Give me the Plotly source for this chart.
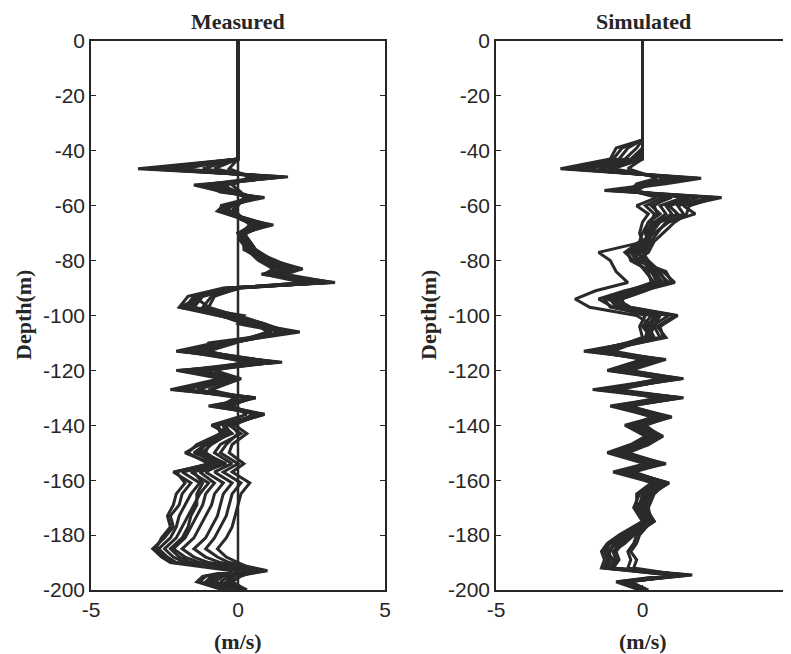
import plotly.graph_objects as go

# ---------------- data ----------------
DEPTH_MEASURED = [0, -43, -46.5, -49.5, -52.5, -55, -57, -60, -62, -65, -67, -70, -73, -76,
                  -80, -83, -85, -88, -90, -93, -97, -100, -103, -106, -110, -113, -117, -120,
                  -123, -127, -130, -133, -136, -140, -143, -147, -150, -154, -157, -161, -165,
                  -169, -173, -177, -181, -185, -188, -190, -193, -195, -197, -200]

MEASURED = [
    [0, 0, -3.4, 1.7, -1.5, -0.5, 0.8, -0.5, -0.7, 0.2, 1.2, 0.1, 0.3, 0.4, 1.3, 1.9, 1.2, 3.3, -0.4, -1.5, -1.8, -0.6, 0.5, 2.1, -0.4, -2.0, 1.4, -2.0, -0.3, -2.2, 0.4, -0.8, 0.8, -0.7, -0.5, -1.3, -1.8, -0.9, -2.2, -1.6, -1.9, -2.0, -2.3, -2.2, -2.5, -2.9, -2.6, -2.3, -0.2, -1.2, -1.4, -0.5],
    [0, 0, -3.1, 1.5, -1.3, -0.2, 0.6, -0.3, -0.5, 0.4, 1.0, 0.2, 0.4, 0.6, 1.1, 1.7, 1.5, 3.0, -0.1, -1.3, -1.6, -0.3, 0.7, 1.8, -0.6, -1.9, 1.1, -1.8, -0.5, -2.0, 0.5, -0.6, 0.7, -0.5, -0.2, -1.1, -1.5, -0.6, -1.9, -1.3, -1.6, -1.8, -2.0, -2.1, -2.3, -2.7, -2.4, -2.1, 0.2, -0.9, -1.1, -0.2],
    [0, 0, -2.6, 1.2, -1.0, -0.4, 0.5, -0.6, -0.3, 0.1, 0.8, 0.0, 0.2, 0.3, 1.0, 1.6, 0.8, 2.8, -0.3, -1.2, -2.0, -0.2, 0.9, 1.1, -0.3, -1.9, 0.5, -1.9, -0.1, -1.8, 0.6, -1.0, 0.9, -0.4, -0.6, -1.2, -1.4, -0.8, -1.6, -1.0, -1.3, -1.5, -1.7, -1.9, -2.1, -2.5, -2.2, -1.8, 0.5, -0.7, -0.9, 0.0],
    [0, 0, -2.2, 1.0, -0.8, -0.1, 0.4, -0.2, -0.4, 0.3, 0.9, 0.3, 0.1, 0.5, 1.2, 2.1, 1.4, 3.1, 0.0, -1.2, -1.5, -0.4, 0.8, 1.6, -0.3, -1.6, 1.2, -1.5, -0.2, -1.9, 0.6, -0.5, 0.9, -0.4, -0.3, -0.9, -1.2, -0.4, -1.3, -0.8, -1.1, -1.2, -1.4, -1.6, -1.8, -2.2, -1.8, -1.3, 0.7, -0.5, -0.8, 0.1],
    [0, 0, -1.8, 0.9, -1.2, -0.3, 0.7, -0.4, -0.6, 0.2, 0.6, 0.1, 0.2, 0.2, 0.9, 1.5, 1.0, 2.6, -0.2, -1.5, -1.0, -0.6, 0.2, 1.9, -1.0, -1.2, 1.2, -1.0, -0.6, -1.9, 0.0, -0.2, 0.3, -0.9, -0.4, -1.0, -1.1, -0.5, -1.1, -0.5, -0.8, -0.9, -1.1, -1.3, -1.5, -1.9, -1.5, -1.0, 0.8, -0.3, -0.6, 0.2],
    [0, 0, -1.2, 0.8, -0.6, 0.0, 0.5, -0.1, -0.2, 0.2, 0.7, 0.2, 0.3, 0.4, 1.0, 1.8, 1.3, 2.9, 0.1, -0.9, -1.2, 0.0, 0.9, 1.7, -0.2, -1.3, 1.3, -1.2, 0.0, -1.4, 0.5, -0.3, 0.7, -0.3, 0.1, -0.6, -0.8, -0.2, -0.8, -0.2, -0.5, -0.6, -0.7, -0.9, -1.1, -1.5, -1.1, -0.6, 0.9, -0.2, -0.4, 0.3],
    [0, 0, -0.8, 0.6, -0.4, -0.2, 0.3, -0.3, -0.3, 0.1, 0.5, 0.0, 0.1, 0.3, 0.8, 1.4, 1.1, 2.4, -0.3, -1.4, -1.6, 0.2, 0.0, 1.5, -0.2, -1.6, 0.3, -1.4, 0.1, -0.9, -0.1, -0.6, 0.8, -0.2, 0.0, -0.4, -0.6, 0.0, -0.5, 0.1, -0.2, -0.3, -0.4, -0.6, -0.8, -1.1, -0.7, -0.3, 1.0, -0.1, -0.3, 0.2],
    [0, 0, -0.3, 0.4, -0.2, 0.1, 0.2, 0.0, -0.1, 0.2, 0.4, 0.1, 0.2, 0.3, 0.7, 1.2, 0.9, 2.2, 0.0, -0.8, -1.0, -0.1, 0.6, 1.0, -0.1, -1.0, 0.6, -0.8, 0.1, -1.0, 0.3, -0.2, 0.5, -0.1, 0.3, -0.2, -0.3, 0.2, -0.2, 0.4, 0.1, 0.0, -0.1, -0.2, -0.4, -0.7, -0.4, 0.0, 0.6, 0.1, -0.2, 0.3],
    [0, 0, -2.9, 1.6, -1.1, -0.6, 0.9, -0.4, -0.6, 0.4, 1.1, 0.2, 0.4, 0.6, 1.2, 2.2, 1.6, 3.2, -0.5, -1.7, -2.0, -0.7, 0.6, 1.9, -0.8, -2.1, 1.5, -2.1, -0.6, -2.3, 0.5, -0.9, 0.8, -0.7, -0.6, -1.4, -1.7, -1.0, -2.1, -1.8, -2.1, -2.2, -2.4, -2.3, -2.6, -2.8, -2.5, -2.2, 0.4, -1.1, -1.3, -0.4],
    [0, 0, -2.4, 1.3, -0.9, -0.3, 0.6, -0.2, -0.4, 0.3, 1.0, 0.1, 0.3, 0.5, 1.1, 1.9, 1.3, 3.0, -0.2, -1.4, -1.7, -0.4, 0.7, 1.6, -0.4, -1.7, 1.1, -1.6, -0.4, -2.0, 0.4, -0.6, 0.7, -0.5, -0.4, -1.1, -1.3, -0.6, -1.5, -1.2, -1.4, -1.4, -1.6, -1.7, -1.9, -2.3, -2.0, -1.6, 0.3, -0.8, -1.0, -0.1],
]

ZERO_LINE_X = [0, 0]
ZERO_LINE_DEPTH = [0, -200]

DEPTH_SIMULATED = [0, -36, -39, -43, -46.5, -50, -52, -54.5, -57, -60, -63, -66, -70, -73, -77,
                   -80, -84, -88, -91, -94, -97, -100, -104, -108, -113, -116, -120, -123, -127,
                   -130, -133, -137, -140, -144, -147, -150, -154, -157, -161, -165, -170, -175,
                   -180, -183, -186, -189, -192, -194.5, -197, -200]

SIMULATED = [
    [0, 0, -0.9, -1.1, -2.8, 1.9, 0.5, -1.3, 2.7, 1.4, 1.8, 0.9, 0.4, 0.1, -1.5, -1.1, -0.9, -0.5, -1.6, -2.3, -1.8, -0.2, 0.4, 0.6, -2.0, 0.4, -0.9, 1.3, -1.6, 1.2, -0.9, 0.7, -0.4, 0.4, -0.2, -1.1, 0.4, -0.9, 0.7, 0.1, -0.2, 0.1, -0.7, -1.1, -1.3, -1.2, -1.3, 1.6, -0.7, 0.0],
    [0, 0, -0.7, -1.0, -2.6, 2.0, 0.8, -1.0, 2.5, 1.6, 1.5, 1.1, 0.7, 0.4, 0.2, -0.2, 0.8, 1.0, -0.3, -1.2, -0.5, 1.1, 0.5, 0.8, -1.5, 0.7, -0.6, 1.4, -1.2, 1.4, -0.6, 0.9, -0.2, 0.6, 0.0, -0.8, 0.5, -0.6, 0.8, 0.2, 0.0, 0.3, -0.4, -0.9, -1.2, -1.0, -1.1, 1.7, -0.6, 0.1],
    [0, 0, -0.2, -0.6, -2.3, 1.6, 0.2, -0.8, 1.9, 0.9, 1.2, 0.6, 0.3, 0.0, -0.5, -0.4, 0.3, 0.6, -0.6, -1.5, -1.0, 0.6, 0.2, 0.4, -1.8, 0.2, -1.1, 1.0, -1.4, 0.9, -1.0, 0.5, -0.5, 0.2, -0.3, -1.0, 0.2, -0.8, 0.5, 0.0, -0.1, 0.2, -0.6, -1.0, -1.1, -1.2, -1.2, 1.2, -0.8, 0.0],
    [0, 0, 0, -0.3, -1.9, 1.3, -0.1, -0.5, 1.4, 0.6, 0.8, 0.4, 0.1, 0.2, -0.3, -0.1, 0.5, 0.9, -0.2, -1.0, -0.8, 0.9, 0.3, 0.1, -1.2, 0.5, -0.7, 1.2, -1.0, 1.1, -0.7, 0.8, -0.1, 0.5, 0.1, -0.6, 0.6, -0.4, 0.9, 0.3, 0.1, 0.4, -0.3, -0.7, -0.9, -0.8, -1.0, 1.4, -0.5, 0.1],
    [0, 0, 0, -0.2, -1.5, 1.0, 0.0, -0.6, 1.0, 0.3, 0.6, 0.2, 0.0, -0.1, -0.6, -0.3, 0.2, 0.3, -0.5, -1.3, -1.1, 0.3, 0.0, 0.3, -1.6, 0.0, -1.2, 0.8, -1.7, 0.7, -1.1, 0.4, -0.6, 0.1, -0.4, -1.2, 0.1, -1.0, 0.4, -0.1, -0.3, 0.0, -0.8, -1.2, -1.4, -1.3, -1.4, 1.0, -0.9, -0.1],
    [0, 0, 0, 0, -1.0, 0.8, 0.3, -0.3, 0.7, 0.1, 0.4, 0.3, 0.2, 0.3, 0.0, 0.2, 0.6, 0.8, 0.1, -0.7, -0.6, 0.6, 0.4, 0.2, -1.0, 0.6, -0.5, 1.1, -0.8, 1.3, -0.5, 1.0, 0.0, 0.7, 0.2, -0.5, 0.7, -0.3, 0.8, 0.4, 0.2, 0.3, -0.1, -0.2, -0.4, -0.2, -0.3, 1.3, -0.4, 0.2],
    [0, 0, 0, 0, -0.5, 0.5, -0.2, -0.4, 0.5, -0.2, 0.2, 0.0, -0.1, 0.0, -0.4, -0.2, 0.1, 0.4, -0.4, -1.1, -0.9, 0.1, -0.1, 0.0, -1.3, 0.1, -0.9, 0.6, -1.3, 0.5, -0.8, 0.3, -0.3, 0.3, -0.1, -0.9, 0.3, -0.7, 0.3, -0.2, -0.2, 0.1, -0.5, -0.9, -1.2, -1.1, -1.2, 0.9, -0.7, 0.0],
    [0, 0, -0.5, -0.8, -2.5, 1.7, 0.6, -1.1, 2.3, 1.2, 1.4, 0.8, 0.5, 0.3, 0.1, 0.0, 0.7, 1.1, 0.0, -0.9, -0.4, 1.2, 0.6, 0.7, -1.4, 0.8, -0.4, 1.3, -1.1, 1.3, -0.4, 0.9, 0.1, 0.6, 0.2, -0.7, 0.8, -0.5, 0.9, 0.3, 0.1, 0.4, -0.3, -0.6, -1.0, -0.9, -1.0, 1.5, -0.5, 0.1],
    [0, 0, 0, -0.4, -2.1, 1.4, 0.1, -0.7, 1.6, 0.8, 1.0, 0.5, 0.2, 0.1, -0.2, 0.1, 0.4, 0.7, -0.3, -1.0, -0.7, 0.5, 0.1, 0.2, -1.7, 0.3, -1.0, 0.9, -1.5, 1.0, -0.9, 0.6, -0.2, 0.3, -0.2, -1.0, 0.3, -0.8, 0.6, 0.0, -0.1, 0.2, -0.4, -0.8, -1.0, -0.9, -1.1, 1.1, -0.6, 0.0],
    [0, 0, 0, -0.1, -1.2, 0.9, 0.2, -0.2, 0.8, 0.4, 0.5, 0.2, 0.1, 0.2, -0.1, 0.0, 0.3, 0.5, -0.1, -0.8, -0.5, 0.4, 0.2, 0.1, -1.1, 0.3, -0.8, 0.9, -1.2, 0.8, -0.6, 0.5, -0.1, 0.4, 0.0, -0.7, 0.4, -0.5, 0.6, 0.1, 0.0, 0.2, -0.2, -0.3, -0.5, -0.4, -0.5, 1.2, -0.5, 0.0],
]

TITLES = ["Measured", "Simulated"]
X_LABEL = "(m/s)"
Y_LABEL = "Depth(m)"
X_TICKS = [-5, 0, 5]
Y_TICKS = [0, -20, -40, -60, -80, -100, -120, -140, -160, -180, -200]

# ---------------- figure ----------------
# The page body has an 8 px margin, so the figure is drawn 8 px smaller and all
# positions (given in window pixels) are shifted by that offset.
OFF = 8
W, H = 791 - OFF, 654 - OFF
LINE_COLOR = "#2a2a2a"
AXIS_COLOR = "#262626"


def px(xw):
    return (xw - OFF) / W


def py(yw):
    return 1 - (yw - OFF) / H


fig = go.Figure()

fig.add_trace(go.Scatter(x=ZERO_LINE_X, y=ZERO_LINE_DEPTH, mode="lines",
                         line=dict(color=LINE_COLOR, width=2.5), xaxis="x", yaxis="y",
                         showlegend=False, hoverinfo="skip"))
for prof in MEASURED:
    fig.add_trace(go.Scatter(x=prof, y=DEPTH_MEASURED, mode="lines",
                             line=dict(color=LINE_COLOR, width=3), xaxis="x", yaxis="y",
                             showlegend=False))
for prof in SIMULATED:
    fig.add_trace(go.Scatter(x=prof, y=DEPTH_SIMULATED, mode="lines",
                             line=dict(color=LINE_COLOR, width=3), xaxis="x2", yaxis="y2",
                             showlegend=False))

tick_font = dict(family="Liberation Sans, Arial, sans-serif", size=21, color="#262626")
label_font = dict(family="Liberation Serif, Times New Roman, serif", size=22, color="#262626")


def xaxis(domain, anchor):
    return dict(domain=domain, anchor=anchor, range=[-5, 5], tickvals=X_TICKS,
                ticktext=[str(v) for v in X_TICKS], ticks="inside", ticklen=5,
                tickcolor=AXIS_COLOR, showline=True, linecolor=AXIS_COLOR, linewidth=1.5,
                mirror="ticks", showgrid=False, zeroline=False, tickfont=tick_font,
                automargin=False, ticklabeloverflow="allow")


def yaxis(domain, anchor):
    return dict(domain=domain, anchor=anchor, range=[-200, 0], tickvals=Y_TICKS,
                ticktext=[str(v) for v in Y_TICKS], ticks="inside", ticklen=5,
                tickcolor=AXIS_COLOR, showline=True, linecolor=AXIS_COLOR, linewidth=1.5,
                mirror="ticks", showgrid=False, zeroline=False, tickfont=tick_font,
                automargin=False, ticklabeloverflow="allow")


ydom = [py(590), py(41)]
x1dom = [px(91), px(385)]
x2dom = [px(496), px(789)]

fig.update_layout(
    template="none",
    width=W, height=H,
    margin=dict(l=0, r=0, t=0, b=0, pad=0),
    paper_bgcolor="white", plot_bgcolor="white",
    xaxis=xaxis(x1dom, "y"), yaxis=yaxis(ydom, "x"),
    xaxis2=xaxis(x2dom, "y2"), yaxis2=yaxis(ydom, "x2"),
)

annots = []
for i, (cx, rx) in enumerate([(238, 24), (643, 429)]):
    annots.append(dict(text="<b>%s</b>" % TITLES[i], x=px(cx), y=py(21), xref="paper", yref="paper",
                       showarrow=False, font=label_font, xanchor="center", yanchor="middle"))
    annots.append(dict(text="<b>%s</b>" % X_LABEL, x=px(cx), y=py(641), xref="paper", yref="paper",
                       showarrow=False, font=label_font, xanchor="center", yanchor="middle"))
    annots.append(dict(text="<b>%s</b>" % Y_LABEL, x=px(rx), y=py(315), xref="paper", yref="paper",
                       showarrow=False, font=label_font, xanchor="center", yanchor="middle", textangle=-90))
fig.update_layout(annotations=annots)

fig.write_html("out.html")
